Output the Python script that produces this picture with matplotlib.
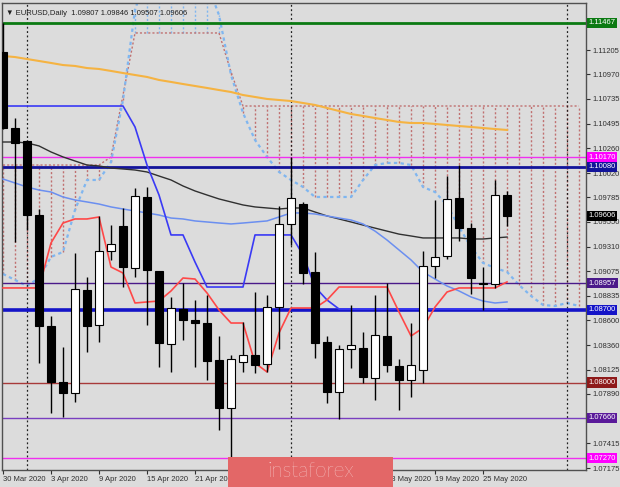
import matplotlib
matplotlib.use("Agg")
import matplotlib.pyplot as plt
import matplotlib.transforms as mtransforms
from matplotlib.patches import Rectangle

# ---------------- data ----------------
title_text = "\u25BC EURUSD,Daily  1.09807 1.09846 1.09507 1.09606"

dates = ["30 Mar", "31 Mar", "1 Apr", "2 Apr", "3 Apr", "6 Apr", "7 Apr", "8 Apr", "9 Apr", "10 Apr",
         "13 Apr", "14 Apr", "15 Apr", "16 Apr", "17 Apr", "20 Apr", "21 Apr", "22 Apr", "23 Apr", "24 Apr",
         "27 Apr", "28 Apr", "29 Apr", "30 Apr", "1 May", "4 May", "5 May", "6 May", "7 May", "8 May",
         "11 May", "12 May", "13 May", "14 May", "15 May", "18 May", "19 May", "20 May", "21 May", "22 May",
         "25 May", "26 May", "27 May"]

opens = [1.11187, 1.10454, 1.10329, 1.09615, 1.08545, 1.08006, 1.07900, 1.08892, 1.08555, 1.09268,
         1.09509, 1.09104, 1.09789, 1.09076, 1.08372, 1.08709, 1.08603, 1.08574, 1.08218, 1.07755,
         1.08198, 1.08266, 1.08179, 1.08728, 1.09529, 1.09721, 1.09066, 1.08391, 1.07909, 1.08324,
         1.08333, 1.08044, 1.08449, 1.08160, 1.08025, 1.08121, 1.09124, 1.09220, 1.09779, 1.09490,
         1.08955, 1.08950, 1.09807]
highs = [1.11466, 1.10550, 1.10340, 1.09673, 1.08642, 1.08343, 1.09249, 1.09018, 1.09606, 1.09519,
         1.09683, 1.09876, 1.09885, 1.09080, 1.08825, 1.08960, 1.08796, 1.08844, 1.08449, 1.08266,
         1.08584, 1.08873, 1.08844, 1.09702, 1.10175, 1.09741, 1.09259, 1.08449, 1.08362, 1.08748,
         1.08488, 1.08844, 1.08960, 1.08227, 1.08574, 1.09268, 1.09760, 1.09991, 1.10097, 1.09538,
         1.09114, 1.09953, 1.09846]
lows = [1.10440, 1.09355, 1.09471, 1.08189, 1.07707, 1.07668, 1.07813, 1.08295, 1.08391, 1.09182,
        1.08921, 1.09018, 1.08555, 1.08150, 1.08102, 1.08410, 1.08150, 1.08025, 1.07543, 1.07282,
        1.08102, 1.08092, 1.08102, 1.08324, 1.09326, 1.08950, 1.08237, 1.07803, 1.07649, 1.08140,
        1.07996, 1.07832, 1.08102, 1.07736, 1.07861, 1.07996, 1.09008, 1.09191, 1.09365, 1.08854,
        1.08700, 1.08912, 1.09507]
closes = [1.10454, 1.10309, 1.09615, 1.08545, 1.08006, 1.07900, 1.08902, 1.08545, 1.09268, 1.09336,
          1.09114, 1.09799, 1.09085, 1.08382, 1.08719, 1.08603, 1.08574, 1.08208, 1.07755, 1.08227,
          1.08266, 1.08169, 1.08728, 1.09529, 1.09779, 1.09056, 1.08382, 1.07909, 1.08324, 1.08362,
          1.08054, 1.08459, 1.08169, 1.08025, 1.08169, 1.09124, 1.09211, 1.09770, 1.09490, 1.09008,
          1.08950, 1.09808, 1.09606]

ma_orange = [1.11148, 1.11138, 1.11119, 1.11100, 1.11081, 1.11061, 1.11052, 1.11032, 1.11023, 1.11004,
             1.10984, 1.10965, 1.10946, 1.10917, 1.10898, 1.10878, 1.10859, 1.10840, 1.10820, 1.10801,
             1.10772, 1.10753, 1.10734, 1.10724, 1.10714, 1.10695, 1.10676, 1.10647, 1.10618, 1.10589,
             1.10570, 1.10550, 1.10531, 1.10512, 1.10502, 1.10502, 1.10493, 1.10483, 1.10473, 1.10464,
             1.10454, 1.10444, 1.10435]
ma_black = [1.10319, 1.10319, 1.10310, 1.10281, 1.10223, 1.10175, 1.10136, 1.10097, 1.10088, 1.10068,
            1.10059, 1.10049, 1.10030, 1.09991, 1.09953, 1.09895, 1.09847, 1.09808, 1.09770, 1.09741,
            1.09712, 1.09693, 1.09683, 1.09673, 1.09683, 1.09683, 1.09644, 1.09606, 1.09577, 1.09548,
            1.09518, 1.09489, 1.09460, 1.09431, 1.09413, 1.09394, 1.09394, 1.09394, 1.09394, 1.09384,
            1.09384, 1.09394, 1.09403]
ma_blue = [1.09962, 1.09924, 1.09885, 1.09856, 1.09837, 1.09789, 1.09760, 1.09741, 1.09721, 1.09693,
           1.09673, 1.09654, 1.09635, 1.09615, 1.09586, 1.09577, 1.09558, 1.09548, 1.09538, 1.09529,
           1.09538, 1.09548, 1.09558, 1.09596, 1.09635, 1.09635, 1.09625, 1.09606, 1.09586, 1.09567,
           1.09529, 1.09460, 1.09374, 1.09278, 1.09182, 1.09066, 1.08998, 1.08931, 1.08883, 1.08825,
           1.08786, 1.08767, 1.08777]
tenkan = [1.08912, 1.08912, 1.08912, 1.08912, 1.09346, 1.09538, 1.09577, 1.09577, 1.09596, 1.09114,
          1.09056, 1.08767, 1.08777, 1.08786, 1.08883, 1.09008, 1.08998, 1.08864, 1.08700, 1.08574,
          1.08574, 1.08189, 1.08102, 1.08478, 1.08719, 1.08719, 1.08719, 1.08796, 1.08921, 1.08921,
          1.08921, 1.08921, 1.08921, 1.08680, 1.08449, 1.08526, 1.08728, 1.08873, 1.08912, 1.08912,
          1.08912, 1.08912, 1.08970]
kijun = [1.10666, 1.10666, 1.10666, 1.10666, 1.10666, 1.10666, 1.10666, 1.10666, 1.10666, 1.10666,
         1.10666, 1.10464, 1.10097, 1.09808, 1.09423, 1.09423, 1.09162, 1.08921, 1.08921, 1.08921,
         1.08921, 1.09423, 1.09423, 1.09423, 1.09423, 1.09230, 1.08921, 1.08796, 1.08709, 1.08709,
         1.08709, 1.08709, 1.08709, 1.08709, 1.08709, 1.08709, 1.08709, 1.08709, 1.08709, 1.08709,
         1.08709, 1.08709, 1.08709]
span_a = [1.09047, 1.08989, 1.08931, 1.09008, 1.09211, 1.09259, 1.09664, 1.09953, 1.09953, 1.10126,
          1.10724, 1.11592, 1.11950, 1.12100, 1.12150, 1.12100, 1.12000, 1.11850, 1.11543, 1.10965,
          1.10599, 1.10338, 1.10175, 1.10030, 1.09953, 1.09885, 1.09789, 1.09789, 1.09789, 1.09789,
          1.09953, 1.10097, 1.10117, 1.10117, 1.10097, 1.09885, 1.09837, 1.09712, 1.09500, 1.09307,
          1.09153, 1.09105, 1.09066, 1.08941, 1.08835, 1.08748, 1.08738, 1.08767, 1.08738]
span_b = [1.10097, 1.10097, 1.10097, 1.10097, 1.10097, 1.10097, 1.10097, 1.10097, 1.10097, 1.10175,
          1.10772, 1.11370, 1.11370, 1.11370, 1.11370, 1.11370, 1.11370, 1.11370, 1.11370, 1.10994,
          1.10666, 1.10666, 1.10666, 1.10666, 1.10666, 1.10666, 1.10666, 1.10666, 1.10666, 1.10666,
          1.10666, 1.10666, 1.10666, 1.10666, 1.10666, 1.10666, 1.10666, 1.10666, 1.10666, 1.10666,
          1.10666, 1.10666, 1.10666, 1.10666, 1.10666, 1.10666, 1.10666, 1.10666, 1.10666]

level_prices = [1.11467, 1.10170, 1.10080, 1.08957, 1.08700, 1.08000, 1.07660, 1.07270]
level_labels = ["1.11467", "1.10170", "1.10080", "1.08957", "1.08700", "1.08000", "1.07660", "1.07270"]
level_colors = ["#0b7a12", "#f030f0", "#12149a", "#4a1a8a", "#1414c8", "#a83a3a", "#7a3ec0", "#f030f0"]
level_widths = [2.0, 1.0, 2.0, 1.0, 2.6, 1.0, 1.0, 1.0]
label_box_colors = ["#0b7a12", "#ff00ff", "#12149a", "#4a1a8a", "#1414c8", "#8e1a1a", "#5a1a9a", "#ff00ff"]

current_price = 1.09606
current_label = "1.09606"

price_ticks = [1.11205, 1.10970, 1.10735, 1.10495, 1.10260, 1.10020, 1.09785, 1.09550, 1.09310,
               1.09075, 1.08835, 1.08600, 1.08360, 1.08125, 1.07890, 1.07415, 1.07175]
price_tick_labels = ["1.11205", "1.10970", "1.10735", "1.10495", "1.10260", "1.10020", "1.09785",
                     "1.09550", "1.09310", "1.09075", "1.08835", "1.08600", "1.08360", "1.08125",
                     "1.07890", "1.07415", "1.07175"]

# date ticks every 4 bars; the ones hidden under the watermark are left blank
xtick_idx = [0, 4, 8, 12, 16, 20, 24, 28, 32, 36, 40]
xtick_labels = ["30 Mar 2020", "3 Apr 2020", "9 Apr 2020", "15 Apr 2020", "21 Apr 2020",
                "", "", "", "13 May 2020", "19 May 2020", "25 May 2020"]
separator_idx = [2, 24, 47]

watermark = "instaforex"

# ---------------- figure ----------------
BG = "#dcdcdc"
W, H = 620, 487
fig = plt.figure(figsize=(W / 100, H / 100), dpi=100, facecolor=BG)
ax = fig.add_axes([2 / W, 1 - 470 / H, 584 / W, 467 / H])
ax.set_facecolor(BG)
ax.set_xlim(-0.083, 48.58)
ax.set_ylim(1.07157, 1.11659)

# cloud hatching
for i in range(len(span_a)):
    a, b = span_a[i], span_b[i]
    col = "#c07070" if b >= a else "#7fb6f0"
    ax.vlines(i, min(a, b), max(a, b), colors=col, linestyles=(0, (1.5, 1.5)), lw=1.0, zorder=1)
xs_cloud = list(range(len(span_a)))
ax.plot(xs_cloud, span_b, color="#c07070", lw=1.0, ls=(0, (1.5, 1.5)), zorder=2)
ax.plot(xs_cloud, span_a, color="#7fb6f0", lw=1.6, ls=(0, (1.5, 1.5)), zorder=2)

# separators
for s in separator_idx:
    ax.axvline(s, color="#202020", lw=0.9, ls=(0, (1.5, 2)), zorder=2)

# horizontal levels
for p, c, w in zip(level_prices, level_colors, level_widths):
    ax.axhline(p, color=c, lw=w, zorder=2.5)

# indicator lines
xs = list(range(len(opens)))
ax.plot(xs, ma_orange, color="#f5b342", lw=1.5, zorder=3)
ax.plot(xs, ma_black, color="#303030", lw=1.0, zorder=3)
ax.plot(xs, ma_blue, color="#6b8ff0", lw=1.1, zorder=3)
ax.plot(xs, kijun, color="#3a3af5", lw=1.2, zorder=3)
ax.plot(xs, tenkan, color="#ff4848", lw=1.2, zorder=3)

# candles
bw = 0.6
for i, (o, h, l, c) in enumerate(zip(opens, highs, lows, closes)):
    ax.vlines(i, l, h, colors="black", lw=1.0, zorder=4)
    bottom = min(o, c)
    height = max(abs(c - o), 0.00002)
    fc = "white" if c > o else "black"
    ax.add_patch(Rectangle((i - bw / 2, bottom), bw, height, facecolor=fc,
                           edgecolor="black", lw=0.8, zorder=5))

# axes styling
for sp in ax.spines.values():
    sp.set_color("#505050")
    sp.set_linewidth(1.0)

ax.yaxis.tick_right()
ax.set_yticks(price_ticks)
ax.set_yticklabels(price_tick_labels)
ax.tick_params(axis="y", direction="out", length=3, width=0.8, colors="#303030",
               labelsize=5.5, pad=1.5)
for lab in ax.get_yticklabels():
    lab.set_fontfamily("Liberation Sans")

ax.set_xticks(xtick_idx)
ax.set_xticklabels(xtick_labels)
ax.tick_params(axis="x", direction="out", length=3, width=0.8, colors="#303030",
               labelsize=5.5, pad=1.5)
for lab in ax.get_xticklabels():
    lab.set_horizontalalignment("left")
    lab.set_fontfamily("Liberation Sans")

# colored price boxes on right axis
trans = mtransforms.blended_transform_factory(ax.transAxes, ax.transData)
for p, lab, c in zip(level_prices, level_labels, label_box_colors):
    ax.text(1.004, p, lab, transform=trans, ha="left", va="center", color="white",
            fontsize=5.5, family="Liberation Sans", clip_on=False, zorder=20,
            bbox=dict(boxstyle="square,pad=0.22", fc=c, ec="none"))
ax.text(1.004, current_price, current_label, transform=trans, ha="left", va="center",
        color="white", fontsize=5.5, family="Liberation Sans", clip_on=False, zorder=20,
        bbox=dict(boxstyle="square,pad=0.22", fc="black", ec="none"))

# title
ax.text(0.006, 0.985, title_text, transform=ax.transAxes, ha="left", va="top",
        fontsize=5.5, color="#202020", family=["Liberation Sans", "DejaVu Sans"], zorder=20)

# watermark
fig.add_artist(Rectangle((228 / W, 0), (393 - 228) / W, 30 / H, transform=fig.transFigure,
                         facecolor="#e36767", edgecolor="none", zorder=30))
fig.text(310.5 / W, 16 / H, watermark, ha="center", va="center", color="white",
         fontsize=15, family="Lato", fontweight="light", zorder=31)

fig.savefig("out.png", dpi=100, facecolor=BG)
